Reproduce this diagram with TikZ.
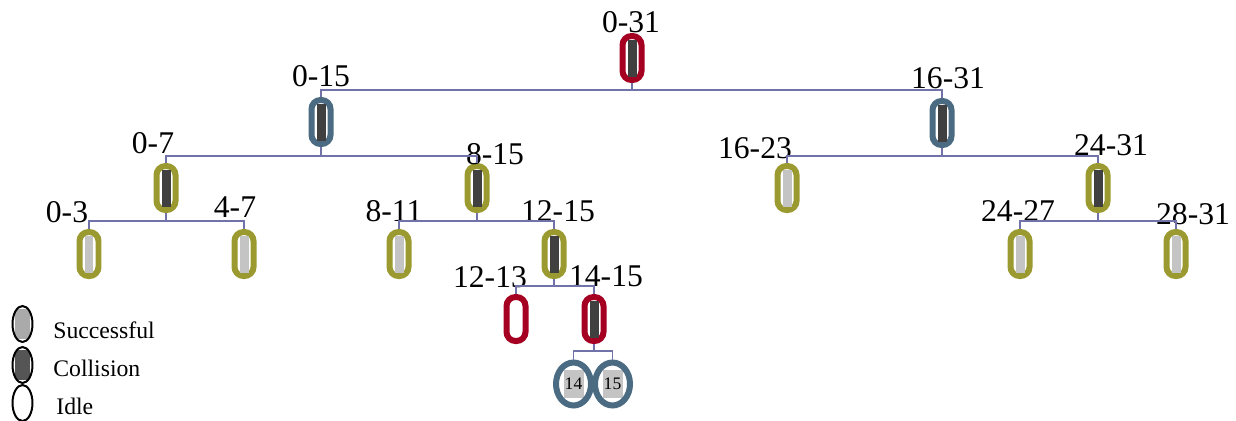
\documentclass[tikz,border=0pt]{standalone}
\usepackage{fontspec}
\setmainfont{Liberation Serif}
\usetikzlibrary{shapes.geometric,calc}
\definecolor{cred}{HTML}{A50021}
\definecolor{cblue}{HTML}{4A6B82}
\definecolor{colive}{HTML}{9A9A30}
\definecolor{cline}{HTML}{7272AA}
\definecolor{cdark}{HTML}{404040}
\definecolor{clight}{HTML}{C4C4C4}
\definecolor{cleglight}{HTML}{AAAAAA}
\definecolor{clegdark}{HTML}{555555}
\newcommand{\dbar}{\textcolor{cdark}{\rule{0.18cm}{0.74cm}}}
\newcommand{\lbar}{\textcolor{clight}{\rule{0.18cm}{0.74cm}}}
\begin{document}
\begin{tikzpicture}[x=0.02cm,y=-0.02cm,
  cap/.style={draw=#1, rectangle, rounded corners=0.18cm, minimum width=0.38cm, minimum height=0.88cm, line width=0.12cm, inner sep=0pt, fill=white},
  slot/.style={draw=cblue, ellipse, minimum width=0.7cm, minimum height=0.86cm, line width=0.12cm, inner sep=0pt, fill=white, font=\fontsize{10}{10}\selectfont,
    path picture={\fill[clight] ([xshift=-0.2cm,yshift=-0.28cm]path picture bounding box.center) rectangle ++(0.4cm,0.56cm);}},
  lab/.style={font=\fontsize{18}{18}\selectfont, inner sep=0pt},
  conn/.style={draw=cline, line width=0.03cm},
  leg/.style={draw=black, ellipse, minimum width=0.4cm, minimum height=0.72cm, line width=0.04cm, inner sep=0pt},
  legl/.style={path picture={\fill[cleglight] ([xshift=-0.16cm,yshift=-0.3cm]path picture bounding box.center) rectangle ++(0.32cm,0.6cm);}},
  legd/.style={path picture={\fill[clegdark] ([xshift=-0.16cm,yshift=-0.3cm]path picture bounding box.center) rectangle ++(0.32cm,0.6cm);}},
  legt/.style={anchor=base west, font=\fontsize{13.5}{14}\selectfont, inner sep=0pt}
]
\useasboundingbox (0,0) rectangle (1236,420);

% capsule nodes
\node[cap=cred]    (n031)  at (632,58)  {\dbar};
\node[cap=cblue]   (n015)  at (321,122) {\dbar};
\node[cap=cblue]   (n1631) at (942,123) {\dbar};
\node[cap=colive]  (n07)   at (166,188) {\dbar};
\node[cap=colive]  (n815)  at (477,188) {\dbar};
\node[cap=colive]  (n1623) at (787,188) {\lbar};
\node[cap=colive]  (n2431) at (1098,188) {\dbar};
\node[cap=colive]  (n03)   at (89,254)  {\lbar};
\node[cap=colive]  (n47)   at (244,254) {\lbar};
\node[cap=colive]  (n811)  at (399,254) {\lbar};
\node[cap=colive]  (n1215) at (554,254) {\dbar};
\node[cap=colive]  (n2427) at (1020,254) {\lbar};
\node[cap=colive]  (n2831) at (1176,254) {\lbar};
\node[cap=cred]    (n1213) at (516,319) {};
\node[cap=cred]    (n1415) at (594,319) {\dbar};
\node[slot] (s14) at (573.5,384) {14};
\node[slot] (s15) at (612.5,384) {15};

% labels
\node[lab] (l031)  at (631,22)  {0-31};
\node[lab] (l015)  at (321,76)  {0-15};
\node[lab] (l1631) at (948,78)  {16-31};
\node[lab] (l07)   at (153,143) {0-7};
\node[lab] (l815)  at (495,154) {8-15};
\node[lab] (l1623) at (755,148) {16-23};
\node[lab] (l2431) at (1111,145) {24-31};
\node[lab] (l03)   at (67,212)  {0-3};
\node[lab] (l47)   at (235,207) {4-7};
\node[lab] (l811)  at (394,211) {8-11};
\node[lab] (l1215) at (558,211) {12-15};
\node[lab] (l2427) at (1018,211) {24-27};
\node[lab] (l2831) at (1193,214) {28-31};
\node[lab] (l1213) at (490,277) {12-13};
\node[lab] (l1415) at (606,276) {14-15};

% connectors
\draw[conn] (n031.south) -- ++(0,7) -| (n015.north);
\draw[conn] (n031.south) -- ++(0,7) -| (n1631.north);
\draw[conn] (n015.south) -- ++(0,9) -| (n07.north);
\draw[conn] (n015.south) -- ++(0,9) -| (n815.north);
\draw[conn] (n1631.south) -- ++(0,8) -| (n1623.north);
\draw[conn] (n1631.south) -- ++(0,8) -| (n2431.north);
\draw[conn] (n07.south) -- ++(0,8) -| (n03.north);
\draw[conn] (n07.south) -- ++(0,8) -| (n47.north);
\draw[conn] (n815.south) -- ++(0,8) -| (n811.north);
\draw[conn] (n815.south) -- ++(0,8) -| (n1215.north);
\draw[conn] (n2431.south) -- ++(0,8) -| (n2427.north);
\draw[conn] (n2431.south) -- ++(0,8) -| (n2831.north);
\draw[conn] (n1215.south) -- ++(0,7) -| (n1213.north);
\draw[conn] (n1215.south) -- ++(0,7) -| (n1415.north);
\draw[conn] (n1415.south) -- ++(0,7) -| (s14.north);
\draw[conn] (n1415.south) -- ++(0,7) -| (s15.north);

% legend
\node[leg, legl] (e1) at (22.5,324) {};
\node[leg, legd] (e2) at (22.5,365) {};
\node[leg]       (e3) at (22.5,403) {};
\node[legt] (t1) at (53,338) {Successful};
\node[legt] (t2) at (53,376) {Collision};
\node[legt] (t3) at (56,414) {Idle};
\end{tikzpicture}
\end{document}
